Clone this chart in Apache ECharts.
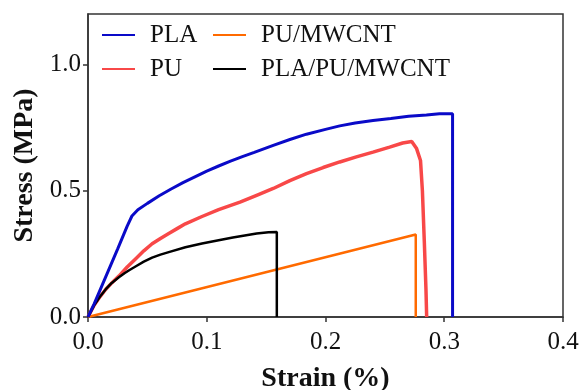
<!DOCTYPE html>
<html>
<head>
<meta charset="utf-8">
<script src="https://cdn.jsdelivr.net/npm/echarts@6/dist/echarts.min.js"></script>
<style>
  html, body { margin: 0; padding: 0; background: #fff; }
  #chart { width: 581px; height: 390px; }
</style>
</head>
<body>
<div id="chart"></div>
<script>
// values, [strain %, stress MPa]
const plaCurve = [
  [0, 0], [0.005, 0.05], [0.015, 0.16], [0.025, 0.27], [0.033, 0.36], [0.037, 0.40],
  [0.042, 0.425], [0.05, 0.45], [0.06, 0.48], [0.07, 0.507], [0.08, 0.532], [0.09, 0.555],
  [0.10, 0.578], [0.11, 0.598], [0.12, 0.617], [0.13, 0.635], [0.14, 0.652], [0.156, 0.68],
  [0.17, 0.703], [0.184, 0.724], [0.2, 0.743], [0.212, 0.757], [0.225, 0.768], [0.24, 0.778],
  [0.255, 0.786], [0.27, 0.795], [0.285, 0.80], [0.296, 0.805], [0.307, 0.805], [0.307, 0]
];
const puCurve = [
  [0, 0], [0.005, 0.045], [0.01, 0.08], [0.015, 0.11], [0.02, 0.135], [0.026, 0.162],
  [0.033, 0.198], [0.04, 0.23], [0.047, 0.262], [0.054, 0.29], [0.061, 0.311], [0.068, 0.331],
  [0.075, 0.35], [0.082, 0.369], [0.096, 0.398], [0.11, 0.425], [0.128, 0.455], [0.142, 0.482],
  [0.156, 0.509], [0.17, 0.54], [0.184, 0.568], [0.198, 0.592], [0.212, 0.614], [0.226, 0.634],
  [0.24, 0.653], [0.254, 0.673], [0.265, 0.689], [0.2726, 0.695], [0.2767, 0.667], [0.28, 0.62],
  [0.2816, 0.50], [0.2832, 0.30], [0.2846, 0.11], [0.2852, 0]
];
const puMwcntCurve = [[0, 0], [0.276, 0.327], [0.276, 0]];
const plaPuMwcntCurve = [
  [0, 0], [0.005, 0.045], [0.01, 0.08], [0.015, 0.11], [0.02, 0.135], [0.026, 0.157],
  [0.031, 0.174], [0.035, 0.186], [0.04, 0.2], [0.047, 0.219], [0.054, 0.235], [0.061, 0.247],
  [0.068, 0.257], [0.082, 0.276], [0.096, 0.291], [0.11, 0.304], [0.122, 0.315], [0.132, 0.323],
  [0.142, 0.331], [0.152, 0.336], [0.159, 0.337], [0.159, 0]
];
const seriesNames = ['PLA', 'PU', 'PU/MWCNT', 'PLA/PU/MWCNT'];
const seriesColors = ['#0a0ac8', '#f84848', '#ff6a00', '#000000'];
const seriesWidths = [3, 3.5, 2.5, 2.5];
const yTickValues = [0, 0.5, 1.0];

const font = 'Liberation Serif';
const chart = echarts.init(document.getElementById('chart'));

const curves = [plaCurve, puCurve, puMwcntCurve, plaPuMwcntCurve];

const legendBase = {
  orient: 'vertical',
  itemWidth: 33,
  itemHeight: 14,
  itemGap: 8,
  icon: 'path://M0,6 L33,6 L33,8 L0,8 Z',
  textStyle: { fontFamily: font, fontSize: 25, color: '#111', lineHeight: 26, padding: [0, 0, 0, 10] }
};

const option = {
  animation: false,
  backgroundColor: '#fff',
  grid: {
    left: 88, right: 18, top: 14, bottom: 73,
    outerBoundsMode: 'none',
    show: true, borderColor: '#333', borderWidth: 1.5
  },
  legend: [
    Object.assign({ left: 97, top: 17, data: [seriesNames[0], seriesNames[1]] }, legendBase),
    Object.assign({ left: 208, top: 17, data: [seriesNames[2], seriesNames[3]] }, legendBase)
  ],
  xAxis: {
    type: 'value', min: 0, max: 0.4, interval: 0.1,
    name: 'Strain (%)', nameLocation: 'middle', nameGap: 48,
    nameTextStyle: { fontFamily: font, fontSize: 28, fontWeight: 'bold', color: '#111' },
    splitLine: { show: false },
    axisLine: { lineStyle: { color: '#333', width: 1.5 } },
    axisTick: { show: true, inside: false, length: 5, lineStyle: { color: '#333', width: 1.5 } },
    axisLabel: { fontFamily: font, fontSize: 25, color: '#111', margin: 13, formatter: v => v.toFixed(1) }
  },
  yAxis: {
    type: 'value', min: 0, max: 1.2,
    name: 'Stress (MPa)', nameLocation: 'middle', nameGap: 48,
    nameTextStyle: { fontFamily: font, fontSize: 28, fontWeight: 'bold', color: '#111' },
    splitLine: { show: false },
    axisLine: { show: true, lineStyle: { color: '#333', width: 1.5 } },
    axisTick: { show: true, inside: false, length: 5, customValues: yTickValues, lineStyle: { color: '#333', width: 1.5 } },
    axisLabel: { fontFamily: font, fontSize: 25, color: '#111', margin: 7, customValues: yTickValues, formatter: v => v.toFixed(1) }
  },
  series: curves.map((c, i) => ({
    name: seriesNames[i],
    type: 'line',
    data: c,
    showSymbol: false,
    symbol: 'none',
    color: seriesColors[i],
    lineStyle: { color: seriesColors[i], width: seriesWidths[i] },
    z: i === 0 ? 5 : 3
  }))
};

chart.setOption(option);
</script>
</body>
</html>
